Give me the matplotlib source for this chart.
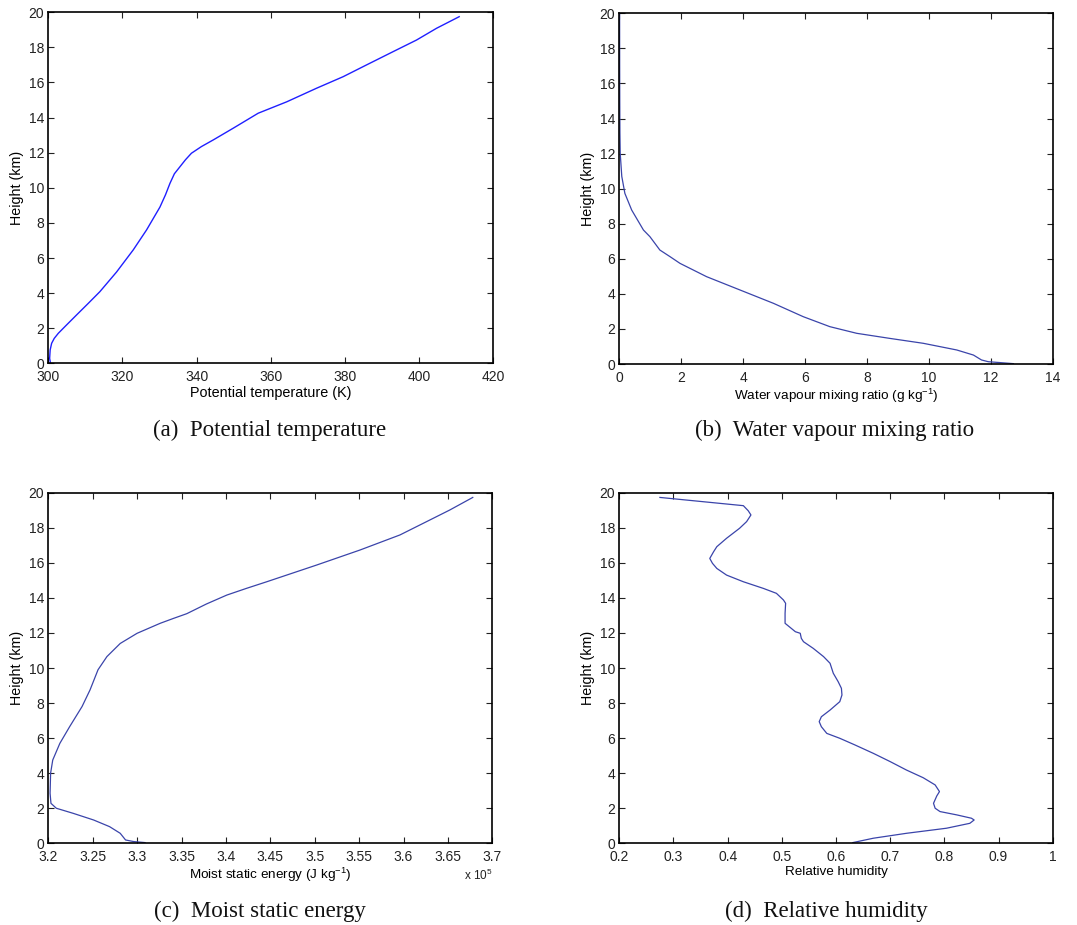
import numpy as np
import matplotlib.pyplot as plt

# (a) potential temperature profile
THETA_Z = [0.0, 0.28, 0.76, 1.14, 1.42, 1.71, 2.18, 2.75, 3.42, 4.08, 5.2, 6.46, 7.6,
           8.9, 9.6, 10.25, 10.8, 11.2, 11.6, 11.97, 12.35, 12.73, 13.4, 14.25, 14.9,
           15.67, 16.33, 17.0, 17.76, 18.42, 19.09, 19.75]
THETA = [300.6, 300.36, 300.5, 300.9, 301.6, 302.7, 304.9, 307.6, 310.8, 313.9, 318.4,
         322.9, 326.5, 330.1, 331.6, 332.8, 334.0, 335.5, 337.0, 338.6, 341.3, 344.5,
         349.9, 356.6, 364.3, 372.3, 379.5, 385.8, 393.0, 399.3, 404.7, 410.8]

# (b) water vapour mixing ratio (g/kg)
QV_Z = [0.02, 0.08, 0.13, 0.23, 0.51, 0.8, 1.18, 1.46, 1.75, 2.13, 2.7, 3.46, 4.22,
        4.98, 5.36, 5.74, 6.12, 6.5, 7.26, 7.64, 8.78, 9.73, 10.7, 12.0, 13.2, 15.0,
        17.0, 20.0]
QV = [12.73, 12.3, 11.92, 11.7, 11.44, 10.9, 9.82, 8.74, 7.67, 6.8, 5.94, 4.98, 3.9,
      2.82, 2.39, 1.96, 1.64, 1.31, 0.99, 0.78, 0.4, 0.18, 0.08, 0.03, 0.02, 0.015,
      0.012, 0.01]

# (c) moist static energy (x 1e5 J/kg)
MSE_Z = [0.04, 0.1, 0.19, 0.57, 0.95, 1.33, 1.71, 2.0, 2.28, 2.85, 4.0, 4.75, 5.7,
         6.65, 7.8, 8.75, 9.9, 10.65, 11.4, 11.98, 12.55, 12.83, 13.1, 13.65, 14.16,
         14.54, 14.92, 15.87, 16.73, 17.59, 18.35, 19.01, 19.73]
MSE = [3.309, 3.296, 3.287, 3.281, 3.269, 3.251, 3.228, 3.209, 3.203, 3.202, 3.2026,
       3.205, 3.213, 3.224, 3.238, 3.247, 3.256, 3.266, 3.281, 3.300, 3.326, 3.341,
       3.356, 3.378, 3.401, 3.423, 3.446, 3.502, 3.551, 3.596, 3.626, 3.652, 3.678]

# (d) relative humidity
RH_Z = [0.04, 0.29, 0.57, 0.86, 1.14, 1.33, 1.43, 1.62, 1.81, 2.0, 2.28, 2.7, 2.95,
        3.33, 3.74, 4.18, 4.66, 5.13, 5.61, 5.99, 6.27, 6.65, 6.94, 7.22, 7.6, 8.08,
        8.46, 8.84, 9.22, 9.7, 10.27, 10.65, 11.12, 11.5, 11.69, 11.98, 12.07, 12.55,
        13.12, 13.69, 13.88, 14.26, 14.54, 14.92, 15.3, 15.68, 15.97, 16.25, 16.63,
        16.92, 17.4, 17.97, 18.35, 18.73, 18.97, 19.26, 19.73]
RH = [0.631, 0.669, 0.730, 0.804, 0.847, 0.855, 0.850, 0.823, 0.792, 0.783, 0.780,
      0.786, 0.791, 0.783, 0.761, 0.730, 0.700, 0.669, 0.635, 0.607, 0.583, 0.573,
      0.569, 0.573, 0.589, 0.607, 0.611, 0.610, 0.604, 0.595, 0.589, 0.577, 0.558,
      0.540, 0.536, 0.534, 0.525, 0.506, 0.506, 0.507, 0.503, 0.490, 0.466, 0.429,
      0.398, 0.380, 0.372, 0.367, 0.374, 0.380, 0.398, 0.422, 0.435, 0.443, 0.438,
      0.429, 0.275]

LABEL_FONT = "Liberation Sans"
CAP_FONT = "Liberation Serif"
BLUE_A = "#1f1fff"
BLUE = "#3a44aa"


def style_axes(ax, xlim, xticks, xlabels):
    ax.set_xlim(*xlim)
    ax.set_ylim(0, 20)
    ax.set_xticks(xticks)
    ax.set_xticklabels(xlabels)
    ax.set_yticks(np.arange(0, 21, 2))
    ax.tick_params(direction="in", length=4, width=0.8, top=True, right=True,
                   labelsize=10, colors="#222222")
    ax.tick_params(axis="x", pad=5)
    ax.tick_params(axis="y", pad=3)
    for lab in ax.get_xticklabels() + ax.get_yticklabels():
        lab.set_family(LABEL_FONT)
    for s in ax.spines.values():
        s.set_linewidth(1.2)
    ax.set_ylabel("Height (km)", fontsize=10.3, family=LABEL_FONT, labelpad=3)


fig = plt.figure(figsize=(10.77, 9.25), dpi=100)
W, H = 1077, 925


def add_ax(l, t, r, b):
    return fig.add_axes([l / W, 1 - b / H, (r - l) / W, (b - t) / H])


ax1 = add_ax(48.3, 12.3, 493.3, 363.3)
ax1.plot(THETA, THETA_Z, color=BLUE_A, lw=1.0)
style_axes(ax1, (300, 420), np.arange(300, 421, 20), [str(v) for v in range(300, 421, 20)])
ax1.set_xlabel("Potential temperature (K)", fontsize=10.4, family=LABEL_FONT, labelpad=1)

ax2 = add_ax(619.3, 13.3, 1052.7, 364)
ax2.plot(QV, QV_Z, color=BLUE, lw=0.9)
style_axes(ax2, (0, 14), np.arange(0, 15, 2), [str(v) for v in range(0, 15, 2)])
ax2.set_xlabel("Water vapour mixing ratio (g kg$^{\\mathregular{-1}}$)", fontsize=9.7,
               family=LABEL_FONT, labelpad=1)

ax3 = add_ax(48.3, 492.7, 492.3, 843.3)
ax3.plot(MSE, MSE_Z, color=BLUE, lw=0.9)
mse_ticks = np.round(np.arange(3.2, 3.701, 0.05), 2)
style_axes(ax3, (3.2, 3.7), mse_ticks, ["%g" % v for v in mse_ticks])
ax3.set_xlabel("Moist static energy (J kg$^{\\mathregular{-1}}$)", fontsize=9.7,
               family=LABEL_FONT, labelpad=1)
ax3.text(1.0, -0.092, "x 10$^{\\mathregular{5}}$", transform=ax3.transAxes, ha="right",
         va="center", fontsize=8.5, family=LABEL_FONT, color="#222222")

ax4 = add_ax(619.3, 492.7, 1052.7, 843.3)
ax4.plot(RH, RH_Z, color=BLUE, lw=0.9)
rh_ticks = np.round(np.arange(0.2, 1.001, 0.1), 1)
style_axes(ax4, (0.2, 1.0), rh_ticks, ["%g" % v for v in rh_ticks])
ax4.set_xlabel("Relative humidity", fontsize=9.7, family=LABEL_FONT, labelpad=1)

captions = [("(a)  Potential temperature", 270, 430),
            ("(b)  Water vapour mixing ratio", 835, 430),
            ("(c)  Moist static energy", 260, 911),
            ("(d)  Relative humidity", 826, 911)]
for text, x, y in captions:
    fig.text(x / W, 1 - y / H, text, ha="center", va="center", fontsize=16.5,
             family=CAP_FONT, color="#111111")

fig.savefig("out.png", dpi=100, facecolor="white")
